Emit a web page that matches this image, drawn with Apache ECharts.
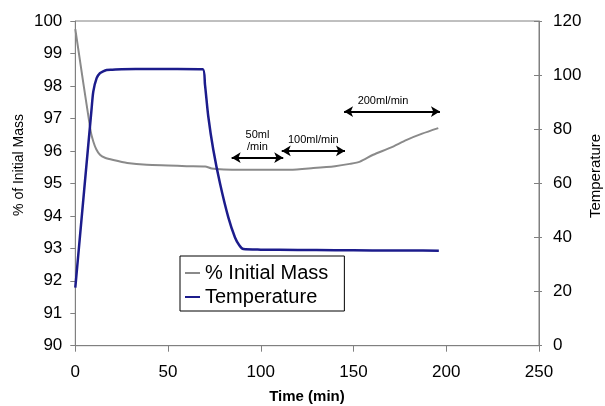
<!DOCTYPE html>
<html>
<head>
<meta charset="utf-8">
<script src="https://cdn.jsdelivr.net/npm/echarts@6/dist/echarts.min.js"></script>
<style>
  html, body { margin: 0; padding: 0; background: #ffffff; }
  #chart { width: 605px; height: 406px; }
</style>
</head>
<body>
<div id="chart"></div>
<script>
// Mass loss record (% of initial mass) against time in minutes
const massTime  = [0, 8.3, 9.7, 11.3, 13.3, 16, 20.5, 28, 38.5, 50, 60, 70, 73.5, 80, 90, 100, 115.7, 128.3, 140, 148, 153.5, 160.6, 170, 178.7, 187, 195.7];
const massValue = [99.75, 96.6, 96.29, 96.05, 95.88, 95.79, 95.72, 95.63, 95.57, 95.55, 95.53, 95.52, 95.46, 95.43, 95.42, 95.42, 95.42, 95.47, 95.53, 95.6, 95.67, 95.88, 96.1, 96.34, 96.53, 96.7];

// Sample temperature against time in minutes
const tempTime  = [0, 8.8, 9.7, 11.5, 13.3, 15, 16.9, 20, 25, 40, 55, 68.7, 69.9, 71.7, 74.4, 78, 82.5, 86.1, 88.5, 90.6, 100, 120, 140, 160, 180, 196];
const tempValue = [21.5, 87.7, 93.9, 98.9, 100.7, 101.4, 101.9, 102.0, 102.2, 102.3, 102.3, 102.2, 96.6, 84.7, 72.4, 60, 47.4, 40, 37, 35.7, 35.5, 35.4, 35.3, 35.2, 35.2, 35.1];

// Gas flow-rate phases (time spans, minutes) and the level their arrows sit at (% axis)
const flowLabels = ['50ml\n/min', '100ml/min', '200ml/min'];
const flowStart  = [84.3, 111.3, 144.9];
const flowEnd    = [112.1, 145.4, 196.6];
const flowLevel  = [95.79, 96.0, 97.21];

// Axis tick settings
const timeTicks = { min: 0, max: 250, interval: 50 };
const massTicks = { min: 90, max: 100, interval: 1 };
const tempTicks = { min: 0, max: 120, interval: 20 };

const FONT = 'Arial, "Liberation Sans", sans-serif';
const AXIS_GREY = '#808080';

const pairs = (xs, ys) => xs.map((x, i) => [x, ys[i]]);

const flowLines = flowLabels.map((txt, i) => [
  {
    coord: [flowStart[i], flowLevel[i]],
    label: {
      formatter: txt,
      padding: i === 2 ? [0, 18, 0, 0] : 0
    }
  },
  { coord: [flowEnd[i], flowLevel[i]] }
]);

const chart = echarts.init(document.getElementById('chart'), null, { renderer: 'canvas' });

chart.setOption({
  animation: false,
  backgroundColor: '#ffffff',
  grid: {
    left: 75.3, right: 66, top: 21, bottom: 60.3,
    show: true, borderColor: AXIS_GREY, borderWidth: 1, backgroundColor: '#ffffff'
  },
  legend: {
    data: ['% Initial Mass', 'Temperature'],
    orient: 'vertical',
    left: 180, top: 256,
    padding: [7, 16, 4, 5],
    itemGap: 4,
    icon: 'rect',
    itemWidth: 15, itemHeight: 2,
    borderColor: '#000000', borderWidth: 1,
    backgroundColor: '#ffffff',
    textStyle: { fontFamily: FONT, fontSize: 20, lineHeight: 20, color: '#000000' }
  },
  xAxis: {
    type: 'value',
    min: timeTicks.min, max: timeTicks.max, interval: timeTicks.interval,
    axisLine: { lineStyle: { color: AXIS_GREY, width: 1 } },
    axisTick: { inside: false, length: 6, lineStyle: { color: AXIS_GREY } },
    axisLabel: { margin: 18, color: '#000000', fontFamily: FONT, fontSize: 17 },
    splitLine: { show: false }
  },
  yAxis: [
    {
      type: 'value', position: 'left',
      min: massTicks.min, max: massTicks.max, interval: massTicks.interval,
      axisLine: { show: true, lineStyle: { color: AXIS_GREY, width: 1 } },
      axisTick: { show: true, inside: false, length: 5, lineStyle: { color: AXIS_GREY } },
      axisLabel: { margin: 13, color: '#000000', fontFamily: FONT, fontSize: 17 },
      splitLine: { show: false }
    },
    {
      type: 'value', position: 'right',
      min: tempTicks.min, max: tempTicks.max, interval: tempTicks.interval,
      axisLine: { show: true, lineStyle: { color: AXIS_GREY, width: 1 } },
      axisTick: { show: true, inside: true, length: 5, lineStyle: { color: AXIS_GREY } },
      axisLabel: { margin: 14, color: '#000000', fontFamily: FONT, fontSize: 17 },
      splitLine: { show: false }
    },
    {
      // outer half of the crossing ticks on the temperature axis
      type: 'value', position: 'right',
      min: tempTicks.min, max: tempTicks.max, interval: tempTicks.interval,
      axisLine: { show: false },
      axisTick: { show: true, inside: false, length: 3, lineStyle: { color: AXIS_GREY } },
      axisLabel: { show: false },
      splitLine: { show: false }
    }
  ],
  series: [
    {
      name: '% Initial Mass',
      type: 'line',
      yAxisIndex: 0,
      data: pairs(massTime, massValue),
      symbol: 'none',
      smooth: 0.25,
      lineStyle: { color: '#8a8a8a', width: 2 },
      itemStyle: { color: '#8a8a8a' },
      markLine: {
        silent: true,
        symbol: ['arrow', 'arrow'],
        symbolSize: [8, 9],
        lineStyle: { color: '#000000', width: 2, type: 'solid' },
        label: {
          show: true,
          position: 'middle',
          distance: 5,
          color: '#000000',
          fontFamily: FONT,
          fontSize: 11,
          lineHeight: 12
        },
        emphasis: { disabled: true },
        data: flowLines
      }
    },
    {
      name: 'Temperature',
      type: 'line',
      yAxisIndex: 1,
      data: pairs(tempTime, tempValue),
      symbol: 'none',
      smooth: 0.25,
      lineStyle: { color: '#1c1c8c', width: 2.5 },
      itemStyle: { color: '#1c1c8c' }
    }
  ],
  graphic: [
    {
      type: 'text', x: 19, y: 165, rotation: Math.PI / 2,
      style: { text: '% of Initial Mass', fontFamily: FONT, fontSize: 14, fill: '#000000', align: 'center', verticalAlign: 'middle' }
    },
    {
      type: 'text', x: 596, y: 176, rotation: Math.PI / 2,
      style: { text: 'Temperature', fontFamily: FONT, fontSize: 15, fill: '#000000', align: 'center', verticalAlign: 'middle' }
    },
    {
      type: 'text', x: 307, y: 397,
      style: { text: 'Time (min)', fontFamily: FONT, fontSize: 15, fontWeight: 'bold', fill: '#000000', align: 'center', verticalAlign: 'middle' }
    }
  ]
});
</script>
</body>
</html>
